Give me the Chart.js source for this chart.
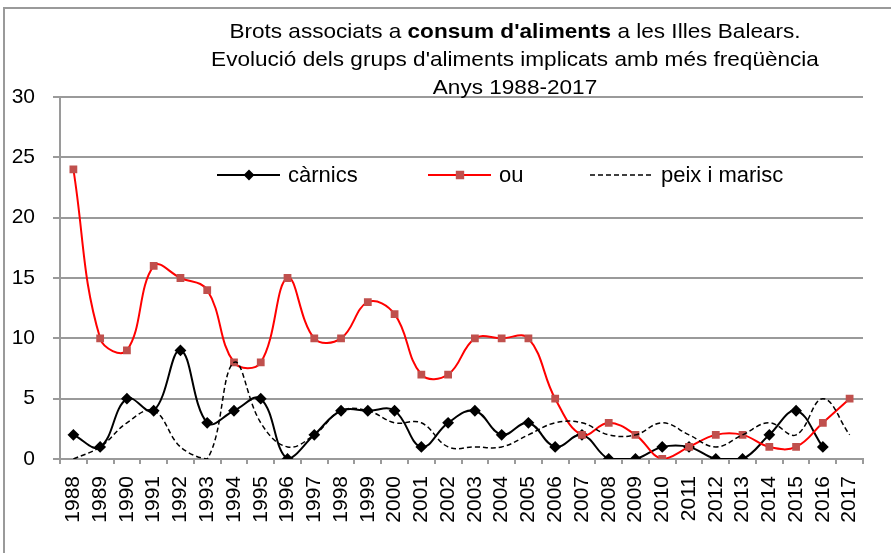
<!DOCTYPE html>
<html>
<head>
<meta charset="utf-8">
<script src="https://cdn.jsdelivr.net/npm/chart.js@4/dist/chart.umd.min.js"></script>
<style>
  body { margin: 0; background: #fff; }
  .wrap { position: relative; width: 891px; height: 553px; overflow: hidden; }
  .frame { position: absolute; left: 3px; top: 7px; width: 1000px; height: 700px; border: 2px solid #9a9a9a; box-sizing: border-box; }
  .title {
    position: absolute; left: 115px; width: 800px; top: 17px;
    text-align: center; font-family: 'Liberation Sans', Arial, sans-serif;
    font-size: 21px; line-height: 28px; color: #000;
    transform: scaleX(1.075); transform-origin: 400px 0;
  }
  canvas { position: absolute; left: 0; top: 0; }
</style>
</head>
<body>
<div class="wrap">
  <div class="frame"></div>
  <canvas id="chart" width="891" height="553"></canvas>
  <div class="title">
    Brots associats a <b>consum d'aliments</b> a les Illes Balears.<br>
    Evolució dels grups d'aliments implicats amb més freqüència<br>
    Anys 1988-2017
  </div>
</div>
<script>
const years = ['1988','1989','1990','1991','1992','1993','1994','1995','1996','1997',
  '1998','1999','2000','2001','2002','2003','2004','2005','2006','2007',
  '2008','2009','2010','2011','2012','2013','2014','2015','2016','2017'];
const carnics = [2,1,5,4,9,3,4,5,0,2,4,4,4,1,3,4,2,3,1,2,0,0,1,1,0,0,2,4,1,null];
const ou = [24,10,9,16,15,14,8,8,15,10,10,13,12,7,7,10,10,10,5,2,3,2,0,1,2,2,1,1,3,5];
const peix = [0,1,3,4,1,0,8,3,1,2,4,4,3,3,1,1,1,2,3,3,2,2,3,2,1,2,3,2,5,2];
const yTicks = [0, 5, 10, 15, 20, 25, 30];

const FONT = "'Liberation Sans', Arial, sans-serif";
const GRID = '#9a9a9a';

// legend drawn inside the plot area, one row
const legendPos = [217, 428, 590];
const insideLegend = {
  id: 'insideLegend',
  afterDraw(chart) {
    const ctx = chart.ctx;
    const y = 175;
    ctx.save();
    chart.data.datasets.forEach((ds, i) => {
      const x = legendPos[i];
      ctx.strokeStyle = ds.borderColor;
      ctx.lineWidth = ds.borderWidth;
      ctx.setLineDash(ds.borderDash || []);
      ctx.beginPath();
      ctx.moveTo(x, y);
      ctx.lineTo(x + 63, y);
      ctx.stroke();
      ctx.setLineDash([]);
      if (ds.pointRadius > 0) {
        ctx.fillStyle = ds.pointBackgroundColor;
        ctx.strokeStyle = ds.pointBorderColor;
        Chart.helpers.drawPoint(ctx, {
          pointStyle: ds.pointStyle,
          radius: ds.pointStyle === 'rect' ? 4.5 : 4,
          borderWidth: 1
        }, x + 32, y);
      }
      ctx.fillStyle = '#000';
      ctx.font = '22px ' + FONT;
      ctx.textBaseline = 'middle';
      ctx.fillText(ds.label, x + 71, y + 1);
    });
    ctx.restore();
  }
};

new Chart(document.getElementById('chart'), {
  type: 'line',
  data: {
    labels: years,
    datasets: [
      {
        label: 'càrnics',
        data: carnics,
        order: 2,
        borderColor: '#000000',
        borderWidth: 2,
        pointStyle: 'rectRot',
        pointRadius: 4.5,
        pointBackgroundColor: '#000000',
        pointBorderColor: '#000000',
        tension: 0.4
      },
      {
        label: 'ou',
        data: ou,
        order: 1,
        borderColor: '#ff0000',
        borderWidth: 2,
        pointStyle: 'rect',
        pointRadius: 5.5,
        pointBorderWidth: 0,
        pointBackgroundColor: '#c0504d',
        pointBorderColor: '#c0504d',
        tension: 0.4
      },
      {
        label: 'peix i marisc',
        data: peix,
        order: 0,
        borderColor: '#000000',
        borderWidth: 1.5,
        borderDash: [5, 3],
        pointRadius: 0,
        pointStyle: 'circle',
        tension: 0.4
      }
    ]
  },
  options: {
    responsive: false,
    animation: false,
    layout: { padding: { left: 0, right: 28, top: 97, bottom: 0 } },
    plugins: {
      legend: { display: false },
      title: { display: false },
      tooltip: { enabled: false }
    },
    scales: {
      x: {
        offset: true,
        grid: {
          offset: true,
          drawOnChartArea: false,
          drawTicks: true,
          tickLength: 5,
          color: GRID,
          lineWidth: 2
        },
        border: { color: GRID, width: 2 },
        ticks: {
          autoSkip: false,
          minRotation: 90,
          maxRotation: 90,
          padding: 12,
          color: '#000',
          font: { family: FONT, size: 21 }
        },
        afterFit(scale) { scale.height = 94; }
      },
      y: {
        min: 0,
        max: 30,
        afterBuildTicks(scale) { scale.ticks = yTicks.map(v => ({ value: v })); },
        grid: {
          color: GRID,
          lineWidth: 2,
          tickLength: 7
        },
        border: { color: GRID, width: 2 },
        ticks: {
          padding: 18,
          color: '#000',
          font: { family: FONT, size: 21 }
        },
        afterFit(scale) { scale.width = 60; }
      }
    }
  },
  plugins: [insideLegend]
});
</script>
</body>
</html>
